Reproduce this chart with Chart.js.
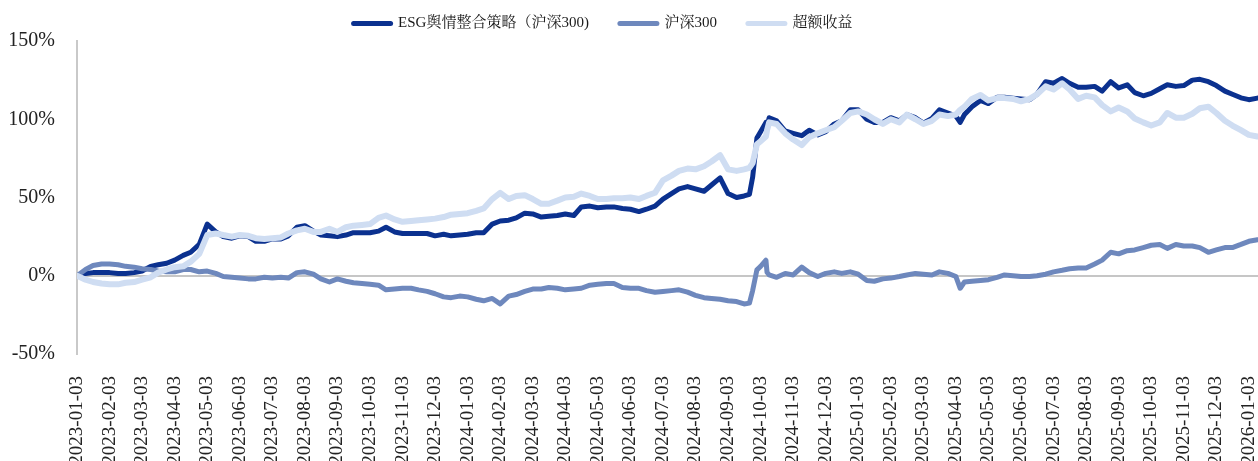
<!DOCTYPE html>
<html>
<head>
<meta charset="utf-8">
<script src="https://cdn.jsdelivr.net/npm/chart.js@4/dist/chart.umd.min.js"></script>
<style>
  html, body { margin: 0; padding: 0; background: #ffffff; }
  canvas { display: block; }
</style>
</head>
<body>
<canvas id="c" width="1258" height="461"></canvas>
<script>
// ---- data (in %) ----
const dates = [
  "2023-01-03","2023-01-11","2023-01-18","2023-01-26","2023-02-03","2023-02-11","2023-02-18","2023-02-26",
  "2023-03-03","2023-03-11","2023-03-18","2023-03-26","2023-04-03","2023-04-11","2023-04-18","2023-04-26",
  "2023-05-03","2023-05-11","2023-05-18","2023-05-26","2023-06-03","2023-06-11","2023-06-18","2023-06-26",
  "2023-07-03","2023-07-11","2023-07-18","2023-07-26","2023-08-03","2023-08-11","2023-08-18","2023-08-26",
  "2023-09-03","2023-09-11","2023-09-18","2023-09-26","2023-10-03","2023-10-11","2023-10-18","2023-10-26",
  "2023-11-03","2023-11-11","2023-11-18","2023-11-26","2023-12-03","2023-12-11","2023-12-18","2023-12-26",
  "2024-01-03","2024-01-11","2024-01-18","2024-01-26","2024-02-03","2024-02-11","2024-02-18","2024-02-26",
  "2024-03-03","2024-03-11","2024-03-18","2024-03-26","2024-04-03","2024-04-11","2024-04-18","2024-04-26",
  "2024-05-03","2024-05-11","2024-05-18","2024-05-26","2024-06-03","2024-06-11","2024-06-18","2024-06-26",
  "2024-07-03","2024-07-11","2024-07-18","2024-07-26","2024-08-03","2024-08-11","2024-08-18","2024-08-26",
  "2024-09-03","2024-09-11","2024-09-18","2024-09-23","2024-09-26","2024-09-30",
  "2024-10-03","2024-10-08","2024-10-09","2024-10-11","2024-10-18","2024-10-26",
  "2024-11-03","2024-11-11","2024-11-18","2024-11-26","2024-12-03","2024-12-11","2024-12-18","2024-12-26",
  "2025-01-03","2025-01-11","2025-01-18","2025-01-26","2025-02-03","2025-02-11","2025-02-18","2025-02-26",
  "2025-03-03","2025-03-11","2025-03-18","2025-03-26","2025-04-03","2025-04-07","2025-04-11","2025-04-18","2025-04-26",
  "2025-05-03","2025-05-11","2025-05-18","2025-05-26","2025-06-03","2025-06-11","2025-06-18","2025-06-26",
  "2025-07-03","2025-07-11","2025-07-18","2025-07-26","2025-08-03","2025-08-11","2025-08-18","2025-08-26",
  "2025-09-03","2025-09-11","2025-09-18","2025-09-26","2025-10-03","2025-10-11","2025-10-18","2025-10-26",
  "2025-11-03","2025-11-11","2025-11-18","2025-11-26","2025-12-03","2025-12-11","2025-12-18","2025-12-26",
  "2026-01-03","2026-01-11"
];

const esgStrategy = [
  0, 1.5, 2, 2, 2, 1.5, 1.5, 2, 3, 6,
  7, 8, 10, 13, 15, 20, 33, 28, 25, 24,
  25.5, 25, 22, 22, 23.5, 23.5, 25.5, 31, 32, 28.5,
  26, 25.5, 25, 26, 27.5, 27.5, 27.5, 28.5, 31, 28,
  27, 27, 27, 27, 25.5, 26.5, 25.5, 26, 26.5, 27.5,
  27.5, 33, 35, 35.5, 37, 40, 39.5, 37.5, 38, 38.5,
  39.5, 38.5, 44, 44.5, 43.5, 44, 44, 43, 42.5, 41,
  42.5, 44.5, 49, 52.5, 55.5, 57, 55.5, 54, 58, 62.5,
  52.5, 50, 51, 52, 63, 88,
  92, 98, 95, 101, 99, 92.5,
  91, 89.5, 93, 90, 92, 97, 99, 106,
  106, 100, 98, 98, 101, 99, 103, 101,
  97.5, 100.5, 106, 104, 102, 98, 103, 108, 112,
  110, 114, 114, 113.5, 113, 112.5, 116, 124,
  123, 126, 123, 120.5, 120.5, 121, 118, 124,
  120, 122, 117, 115, 116.5, 119.5, 122, 121,
  121.5, 125, 125.5, 124, 121.5, 118, 116, 113.7,
  112.5, 113.5
];

const hs300 = [
  0, 4, 6.5, 7.5, 7.5, 7, 6, 5.5, 4.5, 4,
  3, 2.5, 2.5, 4, 4, 2.5, 3, 1.5, -0.5, -1,
  -1.5, -2, -2, -1, -1.5, -1, -1.5, 2, 2.5, 1,
  -2, -4, -2, -3.5, -4.5, -5, -5.5, -6, -9, -8.5,
  -8, -8, -9, -10, -11.5, -13.5, -14, -13, -13.5, -15,
  -16, -14.5, -18, -13, -12, -10, -8.5, -8.5, -7.5, -8,
  -9, -8.5, -8, -6, -5.5, -5, -5, -7.5, -8, -8,
  -9.5, -10.5, -10, -9.5, -9, -10.5, -12.5, -14, -14.5, -15,
  -16, -16.5, -18, -17.5, -9.5, 3.8,
  6, 9.9, 2.2, 0.5, -1, 1.5,
  0.5, 5.5, 2, -0.5, 1.5, 2.5, 1.5, 2.5,
  1, -3, -3.5, -2, -1.5, -0.5, 0.5, 1.5,
  1, 0.5, 2.5, 1.5, -0.5, -8, -4, -3.5, -3,
  -2.5, -1, 0.5, 0, -0.5, -0.5, 0, 1,
  2.5, 3.5, 4.5, 5, 5, 7.5, 10, 15,
  14, 16, 16.5, 18, 19.5, 20, 17.5, 20,
  19, 19, 18, 15, 16.5, 18, 18, 20,
  22, 23
];

const excessReturn = [
  0, -2.5, -4, -5, -5.5, -5.5, -4.5, -4, -2.5, -1,
  2, 4, 5.5, 6, 9, 14, 26, 27, 26, 25,
  26, 25.5, 24, 23.5, 24, 24.5, 27, 29, 30, 28,
  28, 30, 28, 31, 32, 32.5, 33, 37, 38.5, 36,
  34.5, 35, 35.5, 36, 36.5, 37.5, 39, 39.5, 40, 41.5,
  43, 49, 53, 49, 51, 51.5, 49, 46, 46, 48,
  50, 50.5, 52.5, 51, 49, 49, 49.5, 49.5, 50, 49,
  51, 53, 61, 64, 67, 68.5, 68, 70, 73, 77,
  68, 67, 68, 69, 72, 84,
  86, 89, 93, 98, 97, 91,
  87, 83.5, 88.5, 91, 93, 95, 99, 104,
  105, 103, 100, 97, 100, 98, 103, 100,
  97, 99, 103, 102, 103, 106, 108, 113, 115.5,
  112, 113.5, 113.5, 113, 111.5, 113, 116, 121,
  119, 123, 119, 113, 115, 114, 109, 105,
  107.5, 105, 100.5, 98, 96, 98, 104, 101,
  101, 103.5, 107, 108, 104, 99, 96, 93,
  90, 89
];

const tickLabels = [
  "2023-01-03","2023-02-03","2023-03-03","2023-04-03","2023-05-03","2023-06-03",
  "2023-07-03","2023-08-03","2023-09-03","2023-10-03","2023-11-03","2023-12-03",
  "2024-01-03","2024-02-03","2024-03-03","2024-04-03","2024-05-03","2024-06-03",
  "2024-07-03","2024-08-03","2024-09-03","2024-10-03","2024-11-03","2024-12-03",
  "2025-01-03","2025-02-03","2025-03-03","2025-04-03","2025-05-03","2025-06-03",
  "2025-07-03","2025-08-03","2025-09-03","2025-10-03","2025-11-03","2025-12-03",
  "2026-01-03"
];

const yTicks = [-50, 0, 50, 100, 150];
const seriesNames = ["ESG舆情整合策略（沪深300)", "沪深300", "超额收益"];
const seriesColors = ["#0B318F", "#6E88BD", "#CFDDF2"];

// month position of a date string (0 = 2023-01-03)
function monthPos(s) {
  const [y, m, d] = s.split("-").map(Number);
  return (y - 2023) * 12 + (m - 1) + (d - 3) / 30.44;
}
function toPoints(values) {
  return values.map((v, i) => ({ x: monthPos(dates[i]), y: v }));
}

const serif = "'Liberation Serif', 'Times New Roman', serif";
const legendFont = "'Liberation Serif', 'Noto Serif CJK SC', 'Noto Sans CJK SC', serif";

const legendShift = {
  id: 'legendShift',
  afterLayout(chart) {
    if (chart.legend) {
      chart.legend.left -= 26;
      chart.legend.right -= 26;
    }
  }
};

function makeDataset(idx, values, width, order) {
  return {
    label: seriesNames[idx],
    data: toPoints(values),
    borderColor: seriesColors[idx],
    backgroundColor: seriesColors[idx],
    borderWidth: width,
    pointRadius: 0,
    pointHoverRadius: 0,
    pointBorderWidth: 5,
    pointBorderColor: seriesColors[idx],
    borderCapStyle: 'round',
    borderJoinStyle: 'round',
    tension: 0,
    fill: false,
    order: order
  };
}

new Chart(document.getElementById('c'), {
  type: 'line',
  data: {
    datasets: [
      makeDataset(0, esgStrategy, 5, 3),
      makeDataset(1, hs300, 5, 2),
      makeDataset(2, excessReturn, 6, 1)
    ]
  },
  options: {
    responsive: false,
    animation: false,
    devicePixelRatio: 1,
    layout: { padding: { top: -15, left: 0, right: 0, bottom: 0 } },
    plugins: {
      tooltip: { enabled: false },
      legend: {
        display: true,
        position: 'top',
        align: 'center',
        labels: {
          usePointStyle: true,
          pointStyle: 'line',
          pointStyleWidth: 37,
          padding: 31,
          color: '#1a1a1a',
          font: { family: legendFont, size: 15 },
          sort: (a, b) => a.datasetIndex - b.datasetIndex,
          generateLabels: (chart) => {
            const items = Chart.defaults.plugins.legend.labels.generateLabels(chart);
            return items.map(it => Object.assign(it, {
              lineCap: 'round',
              lineWidth: 5,
              strokeStyle: seriesColors[it.datasetIndex],
              fillStyle: seriesColors[it.datasetIndex],
              pointStyle: 'line'
            }));
          }
        }
      }
    },
    scales: {
      x: {
        type: 'linear',
        min: 0,
        max: 36.28,
        grid: { display: false },
        border: { display: false },
        afterBuildTicks: (scale) => {
          scale.ticks = tickLabels.map((_, i) => ({ value: i }));
        },
        afterFit: (scale) => {
          scale.height = 107;
          scale.paddingLeft = 0;
          scale.paddingRight = 0;
        },
        ticks: {
          autoSkip: false,
          maxRotation: 90,
          minRotation: 90,
          padding: 14,
          color: '#222222',
          font: { family: serif, size: 19 },
          callback: (v) => tickLabels[Math.round(v)] || ''
        }
      },
      y: {
        type: 'linear',
        min: -50,
        max: 150,
        afterBuildTicks: (scale) => {
          scale.ticks = yTicks.map(v => ({ value: v }));
        },
        afterFit: (scale) => { scale.width = 77; },
        grid: {
          drawTicks: false,
          lineWidth: 2,
          color: (ctx) => (ctx.tick && ctx.tick.value === 0) ? '#C6C6C6' : 'rgba(0,0,0,0)'
        },
        border: { display: true, color: '#C9C9C9', width: 2 },
        ticks: {
          padding: 22,
          color: '#222222',
          font: { family: serif, size: 20 },
          callback: (v) => v + '%'
        }
      }
    }
  },
  plugins: [legendShift]
});
</script>
</body>
</html>
